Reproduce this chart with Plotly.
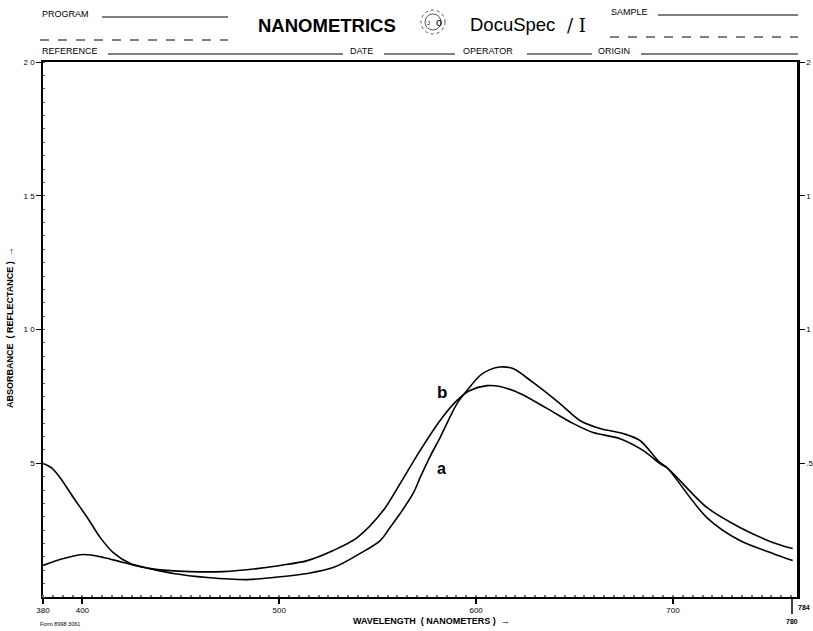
import plotly.graph_objects as go

# ---- data ----
wl_a = [380.0, 384.5, 388.8, 395.4, 402.5, 409.1, 415.7, 424.4, 434.5, 446.2, 463.5, 483.8, 497.0,
        514.2, 527.4, 541.1, 551.3, 556.3, 561.4, 568.0, 571.6, 576.6, 581.7, 590.3, 595.4,
        602.0, 607.0, 612.1, 618.7, 628.9, 642.6, 652.7, 662.9, 674.6, 683.2, 693.3, 696.9, 717.2,
        734.0, 750.7, 760.8]
abs_a = [5.0, 4.82, 4.45, 3.72, 2.97, 2.22, 1.66, 1.25, 1.06, 0.88, 0.73, 0.65, 0.73,
         0.88, 1.1, 1.63, 2.11, 2.6, 3.12, 3.87, 4.47, 5.25, 5.96, 7.23, 7.72,
         8.28, 8.5, 8.6, 8.54, 8.02, 7.23, 6.6, 6.3, 6.11, 5.85, 5.03, 4.84, 2.97,
         2.11, 1.63, 1.36]

wl_b = [380.0, 390.4, 400.5, 410.7, 420.8, 434.5, 454.8, 471.6, 488.8, 500.5, 514.2, 527.4,
        539.6, 552.8, 561.4, 571.6, 581.7, 590.3, 596.9, 605.5, 612.1, 622.3, 636.0, 649.2,
        659.4, 673.1, 684.8, 693.3, 696.9, 717.2, 734.0, 750.7, 760.8]
abs_b = [1.18, 1.44, 1.59, 1.48, 1.29, 1.06, 0.95, 0.95, 1.06, 1.18, 1.36, 1.74,
         2.22, 3.23, 4.24, 5.48, 6.6, 7.35, 7.72, 7.9, 7.87, 7.61, 7.05, 6.49,
         6.15, 5.92, 5.48, 4.99, 4.84, 3.35, 2.6, 2.04, 1.81]

x_tick_vals = [380, 400, 500, 600, 700]
x_tick_text = ["380", "400", "500", "600", "700"]
y_tick_vals = [5, 10, 15, 20]
y_left_text = ["5", "1 0", "1 5", "2 0"]
y_right_text = [".5", "1", "1", "2"]

W, H = 813, 631
L, R, T, B = 43, 16, 62, 34
PW, PH = W - L - R, H - T - B
FONT = "Liberation Sans, Arial, sans-serif"


def px(x):
    return (x - L) / PW


def py(y):
    return (H - B - y) / PH


fig = go.Figure()
fig.add_trace(go.Scatter(x=wl_a, y=abs_a, mode="lines", name="a",
                         line=dict(color="black", width=1.6, shape="spline", smoothing=0.9)))
fig.add_trace(go.Scatter(x=wl_b, y=abs_b, mode="lines", name="b", yaxis="y2",
                         line=dict(color="black", width=1.6, shape="spline", smoothing=0.9)))

fig.update_layout(
    width=W, height=H,
    margin=dict(l=L, r=R, t=T, b=B, autoexpand=False),
    paper_bgcolor="white", plot_bgcolor="white",
    showlegend=False,
    font=dict(family=FONT, color="black"),
    xaxis=dict(range=[380, 763], tickvals=x_tick_vals, ticktext=x_tick_text,
               showgrid=False, zeroline=False, showline=True, linecolor="black",
               linewidth=1.5, mirror=True, ticks="outside", ticklen=5, tickwidth=1.5,
               tickcolor="black", tickfont=dict(size=8, family=FONT), automargin=False,
               minor=dict(dtick=5, ticks="inside", ticklen=2, tickcolor="#777")),
    yaxis=dict(range=[0, 20], tickvals=y_tick_vals, ticktext=y_left_text,
               showgrid=False, zeroline=False, showline=True, linecolor="black",
               linewidth=1.5, ticks="outside", ticklen=5, tickwidth=1.2,
               tickcolor="black", tickfont=dict(size=8, family=FONT), automargin=False,
               minor=dict(dtick=0.5, ticks="inside", ticklen=2, tickcolor="#555")),
    yaxis2=dict(range=[0, 20], overlaying="y", side="right", tickvals=y_tick_vals,
                ticktext=y_right_text, showgrid=False, zeroline=False, showline=True,
                linecolor="black", linewidth=2.5, ticks="outside", ticklen=5,
                tickwidth=1.2, tickcolor="black", tickfont=dict(size=8, family=FONT),
                automargin=False),
)

ann = []


def text(x, y, s, size=8, bold=False, xanchor="left", angle=0, family=FONT):
    ann.append(dict(x=px(x), y=py(y), xref="paper", yref="paper", text=("<b>%s</b>" % s) if bold else s,
                    showarrow=False, xanchor=xanchor, yanchor="middle", textangle=angle,
                    font=dict(size=size, family=family, color="black")))


# header
text(40, 14, "PROGRAM", 9)
text(256, 25, "NANOMETRICS", 18.5, bold=True)
text(468, 24, "DocuSpec", 18.5)
text(565, 25, "/ I", 18, family="DejaVu Serif, serif")
text(609, 12, "SAMPLE", 9)
text(40, 51, "REFERENCE", 9)
text(348, 51, "DATE", 9)
text(461, 51, "OPERATOR", 9)
text(596, 51, "ORIGIN", 9)
text(434, 22, "o", 11)
text(425, 23, "J", 6)

# curve labels
text(442, 392, "b", 17, bold=True, xanchor="center")
text(441, 468, "a", 16, bold=True, xanchor="center")

# axis titles
text(432, 621, "WAVELENGTH  ( NANOMETERS )  \u2192", 9, bold=True, xanchor="center")
text(10, 328, "ABSORBANCE  ( REFLECTANCE )  \u2192", 9, bold=True, xanchor="center", angle=-90)
text(38, 624, "Form 8998 3061", 5.5)
text(804, 607, "784", 7, bold=True, xanchor="center")
text(792, 621, "780", 7, bold=True, xanchor="center")
fig.update_layout(annotations=ann)

shapes = []


def hline(x0, x1, y, dash="solid", w=1):
    shapes.append(dict(type="line", xref="paper", yref="paper", x0=px(x0), x1=px(x1),
                       y0=py(y), y1=py(y), line=dict(color="black", width=w, dash=dash)))


hline(102, 228, 17)
hline(40, 228, 40, dash="dash")
hline(108, 343, 54)
hline(384, 455, 54)
hline(527, 592, 54)
hline(641, 798, 54)
hline(658, 798, 15)
hline(610, 798, 37, dash="dash")
# long 780 tick
shapes.append(dict(type="line", xref="paper", yref="paper", x0=px(792), x1=px(792),
                   y0=py(597), y1=py(614), line=dict(color="black", width=1.5)))
# logo rings
for r, d in [(12, "dot"), (8, "solid")]:
    shapes.append(dict(type="circle", xref="paper", yref="paper",
                       x0=px(433 - r), x1=px(433 + r), y0=py(22 + r), y1=py(22 - r),
                       line=dict(color="#555", width=1, dash=d)))
fig.update_layout(shapes=shapes)

fig.write_html("out.html", config={"displayModeBar": False},
               post_script="document.body.style.margin='0';document.body.style.padding='0';")
